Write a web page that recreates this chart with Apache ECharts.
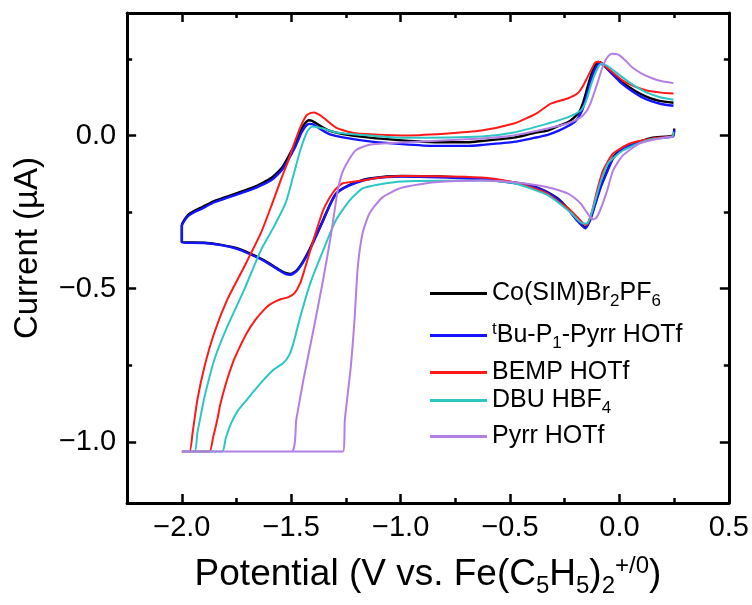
<!DOCTYPE html>
<html>
<head>
<meta charset="utf-8">
<script src="https://cdn.jsdelivr.net/npm/echarts@6/dist/echarts.min.js"></script>
<style>
  html, body { margin: 0; padding: 0; background: #ffffff; }
  #chart { width: 752px; height: 605px; }
</style>
</head>
<body>
<div id="chart"></div>
<script>
// Axis ticks (V and µA)
const potentialTicks = [-2.0, -1.5, -1.0, -0.5, 0.0, 0.5];
const potentialMinorTicks = [-1.75, -1.25, -0.75, -0.25, 0.25];
const currentTicks = [-1.0, -0.5, 0.0];
const currentMinorTicks = [-0.75, -0.25, 0.25];

// Series names in legend order
const seriesNames = ['Co(SIM)Br2PF6', 'tBu-P1-Pyrr HOTf', 'BEMP HOTf', 'DBU HBF4', 'Pyrr HOTf'];

// Cyclic voltammograms: [potential (V), current (µA)] in scan order
const coSimBr2PF6 = [
  [0.25, 0.023], [0.245, 0.0], [0.151, -0.007], [0.079, -0.023], [0.016, -0.039], [-0.029, -0.072],
  [-0.056, -0.114], [-0.088, -0.169], [-0.111, -0.221], [-0.133, -0.270], [-0.156, -0.300], [-0.192, -0.277],
  [-0.237, -0.238], [-0.283, -0.205], [-0.346, -0.179], [-0.405, -0.163], [-0.482, -0.153], [-0.631, -0.140],
  [-0.993, -0.132], [-1.142, -0.140], [-1.205, -0.153], [-1.264, -0.172], [-1.296, -0.190], [-1.323, -0.225],
  [-1.354, -0.275], [-1.386, -0.325], [-1.415, -0.370], [-1.445, -0.410], [-1.475, -0.440], [-1.504, -0.452],
  [-1.530, -0.448], [-1.560, -0.436], [-1.626, -0.407], [-1.690, -0.385], [-1.748, -0.368], [-1.820, -0.357],
  [-1.897, -0.350], [-2.0, -0.348],
  [-2.0, -0.293], [-1.974, -0.261], [-1.940, -0.245], [-1.911, -0.235], [-1.852, -0.214], [-1.780, -0.196],
  [-1.716, -0.180], [-1.660, -0.165], [-1.626, -0.153], [-1.590, -0.138], [-1.567, -0.124], [-1.540, -0.103],
  [-1.522, -0.081], [-1.500, -0.052], [-1.481, -0.026], [-1.465, 0.000], [-1.454, 0.020], [-1.437, 0.040],
  [-1.420, 0.050], [-1.405, 0.048], [-1.386, 0.040], [-1.355, 0.026], [-1.323, 0.015], [-1.264, 0.005],
  [-1.142, -0.007], [-0.993, -0.016], [-0.843, -0.022], [-0.690, -0.022], [-0.631, -0.018], [-0.482, -0.007],
  [-0.391, 0.008], [-0.328, 0.016], [-0.283, 0.030], [-0.237, 0.043], [-0.210, 0.057], [-0.183, 0.078],
  [-0.165, 0.110], [-0.147, 0.155], [-0.128, 0.200], [-0.111, 0.228], [-0.097, 0.240], [-0.085, 0.238],
  [-0.070, 0.229], [-0.043, 0.210], [0.002, 0.180], [0.047, 0.157], [0.093, 0.137], [0.140, 0.122],
  [0.183, 0.113], [0.247, 0.107]
];

const tBuP1PyrrHOTf = [
  [0.25, 0.020], [0.245, -0.003], [0.151, -0.010], [0.079, -0.026], [0.016, -0.042], [-0.029, -0.075],
  [-0.056, -0.118], [-0.088, -0.174], [-0.111, -0.226], [-0.133, -0.275], [-0.156, -0.303], [-0.190, -0.280],
  [-0.237, -0.240], [-0.283, -0.207], [-0.346, -0.181], [-0.405, -0.165], [-0.482, -0.155], [-0.631, -0.143],
  [-0.993, -0.134], [-1.142, -0.142], [-1.205, -0.155], [-1.264, -0.174], [-1.296, -0.192], [-1.323, -0.227],
  [-1.354, -0.278], [-1.386, -0.328], [-1.415, -0.373], [-1.445, -0.413], [-1.475, -0.443], [-1.504, -0.455],
  [-1.530, -0.451], [-1.560, -0.438], [-1.626, -0.409], [-1.690, -0.387], [-1.748, -0.370], [-1.820, -0.358],
  [-1.897, -0.351], [-2.0, -0.350],
  [-2.0, -0.295], [-1.974, -0.265], [-1.940, -0.249], [-1.911, -0.240], [-1.852, -0.218], [-1.780, -0.200],
  [-1.716, -0.185], [-1.660, -0.170], [-1.626, -0.159], [-1.590, -0.145], [-1.567, -0.131], [-1.540, -0.110],
  [-1.522, -0.090], [-1.500, -0.062], [-1.481, -0.036], [-1.465, -0.010], [-1.454, 0.008], [-1.437, 0.028],
  [-1.418, 0.038], [-1.400, 0.036], [-1.386, 0.030], [-1.355, 0.016], [-1.323, 0.004], [-1.264, -0.006],
  [-1.142, -0.019], [-0.993, -0.028], [-0.843, -0.034], [-0.690, -0.034], [-0.631, -0.031], [-0.482, -0.021],
  [-0.391, -0.008], [-0.328, 0.002], [-0.283, 0.014], [-0.237, 0.030], [-0.200, 0.048], [-0.175, 0.075],
  [-0.158, 0.108], [-0.140, 0.155], [-0.122, 0.198], [-0.105, 0.225], [-0.090, 0.235], [-0.078, 0.232],
  [-0.062, 0.222], [-0.035, 0.202], [0.010, 0.170], [0.055, 0.146], [0.100, 0.126], [0.145, 0.112],
  [0.190, 0.103], [0.247, 0.097]
];

const bempHOTf = [
  [0.247, 0.005], [0.242, -0.002], [0.152, -0.010], [0.048, -0.026], [-0.029, -0.059], [-0.075, -0.114],
  [-0.102, -0.179], [-0.124, -0.244], [-0.140, -0.280], [-0.151, -0.292], [-0.165, -0.288], [-0.192, -0.267],
  [-0.230, -0.240], [-0.269, -0.221], [-0.330, -0.190], [-0.405, -0.169], [-0.500, -0.150], [-0.631, -0.137],
  [-0.993, -0.132], [-1.100, -0.138], [-1.174, -0.147], [-1.264, -0.156], [-1.290, -0.170], [-1.309, -0.186],
  [-1.330, -0.210], [-1.354, -0.244], [-1.385, -0.310], [-1.413, -0.375], [-1.440, -0.440], [-1.459, -0.482],
  [-1.485, -0.515], [-1.513, -0.528], [-1.545, -0.534], [-1.567, -0.540], [-1.600, -0.553], [-1.626, -0.570],
  [-1.665, -0.603], [-1.703, -0.645], [-1.735, -0.690], [-1.762, -0.733], [-1.790, -0.790], [-1.807, -0.831],
  [-1.825, -0.880], [-1.838, -0.928], [-1.857, -0.985], [-1.875, -1.032], [-2.0, -1.032], [-1.965, -1.032],
  [-1.951, -0.971], [-1.929, -0.863], [-1.897, -0.756], [-1.852, -0.645], [-1.793, -0.537], [-1.716, -0.430],
  [-1.639, -0.319], [-1.590, -0.228], [-1.545, -0.140], [-1.513, -0.081], [-1.490, -0.033], [-1.459, 0.026],
  [-1.431, 0.065], [-1.410, 0.074], [-1.395, 0.075], [-1.375, 0.069], [-1.354, 0.059], [-1.296, 0.026],
  [-1.205, 0.007], [-0.993, 0.000], [-0.800, 0.006], [-0.631, 0.016], [-0.482, 0.039], [-0.420, 0.058],
  [-0.373, 0.075], [-0.314, 0.104], [-0.237, 0.121], [-0.192, 0.137], [-0.168, 0.160], [-0.147, 0.189],
  [-0.125, 0.220], [-0.111, 0.238], [-0.097, 0.241], [-0.080, 0.235], [-0.056, 0.221], [0.016, 0.179],
  [0.070, 0.160], [0.125, 0.147], [0.190, 0.140], [0.247, 0.137]
];

const dbuHBF4 = [
  [0.247, 0.012], [0.242, -0.003], [0.125, -0.016], [0.016, -0.049], [-0.052, -0.091], [-0.088, -0.156],
  [-0.120, -0.235], [-0.147, -0.287], [-0.169, -0.287], [-0.224, -0.251], [-0.328, -0.195], [-0.482, -0.156],
  [-0.631, -0.147], [-0.993, -0.150], [-1.100, -0.160], [-1.174, -0.173], [-1.233, -0.212], [-1.296, -0.277],
  [-1.354, -0.375], [-1.413, -0.482], [-1.459, -0.593], [-1.490, -0.678], [-1.510, -0.718], [-1.535, -0.742],
  [-1.581, -0.765], [-1.639, -0.808], [-1.703, -0.863], [-1.745, -0.900], [-1.775, -0.940], [-1.800, -0.990],
  [-1.816, -1.032], [-2.0, -1.032], [-1.942, -1.032],
  [-1.929, -0.971], [-1.911, -0.905], [-1.897, -0.855], [-1.852, -0.733], [-1.793, -0.625], [-1.716, -0.505],
  [-1.639, -0.375], [-1.581, -0.300], [-1.526, -0.221], [-1.490, -0.130], [-1.459, -0.049], [-1.431, 0.007],
  [-1.415, 0.024], [-1.400, 0.029], [-1.380, 0.027], [-1.354, 0.023], [-1.296, 0.010], [-1.142, 0.000],
  [-0.993, -0.007], [-0.631, -0.003], [-0.482, 0.010], [-0.328, 0.039], [-0.237, 0.059], [-0.178, 0.081],
  [-0.160, 0.100], [-0.147, 0.124], [-0.128, 0.170], [-0.111, 0.202], [-0.093, 0.228], [-0.079, 0.235],
  [-0.062, 0.230], [-0.043, 0.221], [0.034, 0.179], [0.080, 0.157], [0.125, 0.140], [0.190, 0.124],
  [0.247, 0.117]
];

const pyrrHOTf = [
  [0.247, -0.004], [0.183, -0.010], [0.093, -0.026], [0.016, -0.065], [-0.029, -0.114], [-0.056, -0.179],
  [-0.088, -0.244], [-0.105, -0.268], [-0.120, -0.274], [-0.133, -0.267], [-0.155, -0.245], [-0.178, -0.221],
  [-0.237, -0.189], [-0.328, -0.169], [-0.482, -0.153], [-0.631, -0.147], [-0.843, -0.153], [-0.993, -0.170],
  [-1.083, -0.202], [-1.142, -0.254], [-1.174, -0.319], [-1.196, -0.430], [-1.210, -0.593], [-1.228, -0.756],
  [-1.255, -0.928], [-1.264, -1.032], [-2.0, -1.032], [-1.500, -1.032],
  [-1.477, -0.928], [-1.445, -0.800], [-1.400, -0.640], [-1.354, -0.470], [-1.322, -0.340], [-1.305, -0.260],
  [-1.290, -0.190], [-1.275, -0.140], [-1.260, -0.110], [-1.233, -0.075], [-1.205, -0.048], [-1.142, -0.030],
  [-0.993, -0.023], [-0.631, -0.010], [-0.482, 0.000], [-0.328, 0.023], [-0.237, 0.039], [-0.178, 0.059],
  [-0.150, 0.080], [-0.133, 0.104], [-0.115, 0.140], [-0.097, 0.179], [-0.080, 0.218], [-0.065, 0.244],
  [-0.050, 0.260], [-0.034, 0.267], [-0.015, 0.266], [0.002, 0.261], [0.030, 0.243], [0.061, 0.221],
  [0.100, 0.203], [0.152, 0.186], [0.200, 0.176], [0.247, 0.171]
];

const seriesData = [coSimBr2PF6, tBuP1PyrrHOTf, bempHOTf, dbuHBF4, pyrrHOTf];
const seriesColors = ['#000000', '#1414ff', '#ff1a1a', '#2cc7c3', '#b47fe3'];
const seriesWidths = [2.4, 2.4, 2, 2, 2];

const FONT = '"Liberation Sans", Arial, Helvetica, sans-serif';
const minusFmt = v => (v < 0 ? '\u2212' : '') + Math.abs(v).toFixed(1);

// Rich-text markup for names with sub/superscripts
const legendMarkup = {
  'Co(SIM)Br2PF6': '{m|Co(SIM)Br}{s|2}{m|PF}{s|6}',
  'tBu-P1-Pyrr HOTf': '{p|t}{m|Bu-P}{s|1}{m|-Pyrr HOTf}',
  'BEMP HOTf': '{m|BEMP HOTf}',
  'DBU HBF4': '{m|DBU HBF}{s|4}',
  'Pyrr HOTf': '{m|Pyrr HOTf}'
};
const legendRich = {
  m: { fontSize: 25, fontFamily: FONT, color: '#000', lineHeight: 36 },
  s: { fontSize: 17, fontFamily: FONT, color: '#000', lineHeight: 20, padding: [16, 0, 0, 0] },
  p: { fontSize: 17, fontFamily: FONT, color: '#000', lineHeight: 24, padding: [0, 0, 12, 0] }
};
// Top edge of each legend row box
const legendRowTops = [277, 319, 360, 384, 424];

const axisLineStyle = { color: '#000', width: 3 };
const tickStyle = { color: '#000', width: 2.5 };

function xAxisPart(position, ticks, length, withLine, withLabels) {
  return {
    type: 'value', position, min: -2.25, max: 0.5,
    axisLine: { show: withLine, onZero: false, lineStyle: axisLineStyle },
    axisTick: { show: true, inside: true, length, lineStyle: tickStyle, customValues: ticks },
    axisLabel: withLabels
      ? { show: true, customValues: ticks, formatter: minusFmt, fontSize: 29, fontFamily: FONT, color: '#000', margin: 10 }
      : { show: false },
    splitLine: { show: false }
  };
}
function yAxisPart(position, ticks, length, withLine, withLabels) {
  return {
    type: 'value', position, min: -1.2, max: 0.4,
    axisLine: { show: withLine, onZero: false, lineStyle: axisLineStyle },
    axisTick: { show: true, inside: true, length, lineStyle: tickStyle, customValues: ticks },
    axisLabel: withLabels
      ? { show: true, customValues: ticks, formatter: minusFmt, fontSize: 29, fontFamily: FONT, color: '#000', margin: 11 }
      : { show: false },
    splitLine: { show: false }
  };
}

const xMain = xAxisPart('bottom', potentialTicks, 9, true, true);
Object.assign(xMain, {
  name: '{m|Potential (V vs. Fe(C}{s|5}{m|H}{s|5}{m|)}{s|2}{p|+/0}{m|)}',
  nameLocation: 'middle',
  nameGap: 48,
  nameTextStyle: {
    rich: {
      m: { fontSize: 37, fontFamily: FONT, color: '#000', lineHeight: 48 },
      s: { fontSize: 24, fontFamily: FONT, color: '#000', lineHeight: 26, padding: [22, 0, 0, 0] },
      p: { fontSize: 24, fontFamily: FONT, color: '#000', lineHeight: 30, padding: [0, 0, 18, 0] }
    }
  }
});
const yMain = yAxisPart('left', currentTicks, 9, true, true);
Object.assign(yMain, {
  name: 'Current (\u00B5A)',
  nameLocation: 'middle',
  nameGap: 76,
  nameTextStyle: { fontSize: 33, fontFamily: FONT, color: '#000', lineHeight: 40, padding: [0, 0, 0, 20] }
});

const option = {
  animation: false,
  backgroundColor: '#ffffff',
  grid: { left: 122, right: 22, top: 13, bottom: 102 },
  xAxis: [
    xMain,
    xAxisPart('bottom', potentialMinorTicks, 5, false, false),
    xAxisPart('top', potentialTicks, 9, true, false),
    xAxisPart('top', potentialMinorTicks, 5, false, false)
  ],
  yAxis: [
    yMain,
    yAxisPart('left', currentMinorTicks, 5, false, false),
    yAxisPart('right', currentTicks, 9, true, false),
    yAxisPart('right', currentMinorTicks, 5, false, false)
  ],
  legend: seriesNames.map((name, i) => ({
    data: [name],
    left: 430,
    top: legendRowTops[i],
    padding: 0,
    icon: 'rect',
    itemWidth: 57,
    itemHeight: 3,
    selectedMode: false,
    formatter: n => legendMarkup[n],
    textStyle: { rich: legendRich }
  })),
  series: seriesNames.map((name, i) => ({
    name,
    type: 'line',
    xAxisIndex: 0,
    yAxisIndex: 0,
    data: seriesData[i],
    symbol: 'none',
    showSymbol: false,
    smooth: 0.2,
    lineStyle: { color: seriesColors[i], width: seriesWidths[i] },
    itemStyle: { color: seriesColors[i] },
    z: 2 + i
  }))
};

const chart = echarts.init(document.getElementById('chart'), null, { renderer: 'canvas' });
chart.setOption(option);
</script>
</body>
</html>
